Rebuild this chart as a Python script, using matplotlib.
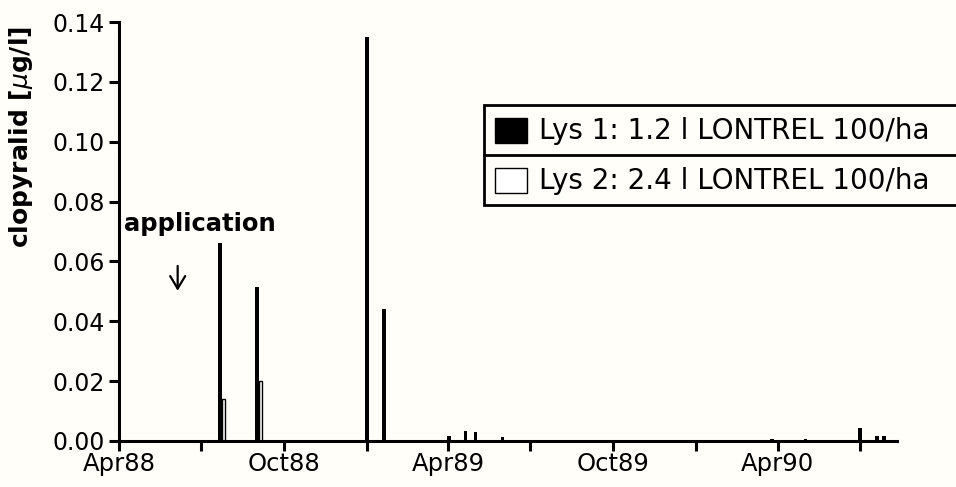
import numpy as np
import matplotlib
matplotlib.use("Agg")
import matplotlib.pyplot as plt
import matplotlib.dates as mdates
from matplotlib.patches import Rectangle
from matplotlib.lines import Line2D

# sampling dates and concentrations
dates = ["1988-07-20", "1988-08-30", "1988-12-30", "1989-01-18", "1989-03-31",
         "1989-04-18", "1989-04-29", "1989-05-29", "1990-03-24", "1990-04-30",
         "1990-06-29", "1990-07-18", "1990-07-26"]
lys1 = [0.066, 0.0515, 0.135, 0.044, 0.0015, 0.0035, 0.003, 0.0012,
        0.0008, 0.0008, 0.0045, 0.0015, 0.0015]
lys2 = [0.014, 0.020, 0, 0, 0, 0, 0, 0, 0, 0, 0, 0, 0]

tick_dates = ["1988-04-01", "1988-07-01", "1988-10-01", "1989-01-01", "1989-04-01",
              "1989-07-01", "1989-10-01", "1990-01-01", "1990-04-01", "1990-07-01"]
tick_labels = ["Apr88", "", "Oct88", "", "Apr89", "", "Oct89", "", "Apr90", ""]

application_date = "1988-06-05"

plt.rcParams['font.family'] = ['DejaVu Sans']
bg = "#fffef8"

fig = plt.figure(figsize=(9.56, 4.87), dpi=100, facecolor=bg)
ax = fig.add_axes([0.1245, 0.0945, 0.8135, 0.8603], facecolor=bg)

x = mdates.datestr2num(dates)
ax.bar(x, lys1, width=4, color="black", align="edge", linewidth=0)
mask = np.array(lys2) > 0
ax.bar(x[mask] + 4, np.array(lys2)[mask], width=4, color="white",
       edgecolor="black", linewidth=1.0, align="edge")

ax.set_xlim(mdates.datestr2num("1988-04-01"), mdates.datestr2num("1990-08-11"))
ax.set_ylim(0, 0.14)
ax.set_yticks(np.arange(0, 0.141, 0.02))
ax.set_yticklabels(["%.2f" % v for v in np.arange(0, 0.141, 0.02)])
ax.set_xticks(mdates.datestr2num(tick_dates))
ax.set_xticklabels(tick_labels)

for s in ["top", "right"]:
    ax.spines[s].set_visible(False)
for s in ["left", "bottom"]:
    ax.spines[s].set_linewidth(2.2)
ax.tick_params(axis="both", width=2.2, length=7)
ax.tick_params(axis="y", labelsize=17, pad=3)
ax.tick_params(axis="x", labelsize=17.5, pad=1)

ax.set_ylabel("clopyralid [$\\mu$g/l]", fontsize=18, fontweight="bold")
ax.yaxis.set_label_coords(-0.108, 0.726)

xa = mdates.datestr2num(application_date)
ax.text(mdates.datestr2num("1988-04-07"), 0.0725, "application", fontsize=17.5,
        fontweight="bold", ha="left", va="center")
ax.annotate("", xy=(xa, 0.0502), xytext=(xa, 0.0585),
            arrowprops=dict(arrowstyle="->,head_length=0.5,head_width=0.3",
                            lw=1.6, color="black", mutation_scale=18,
                            shrinkA=0, shrinkB=0))

# legend box drawn by hand (runs off the right edge)
W, H = 956.0, 487.0
def fr(px, py, w, h):
    return (px / W, 1 - (py + h) / H), w / W, h / H
xy, w, h = fr(484, 105, 500, 100)
fig.patches.append(Rectangle(xy, w, h, transform=fig.transFigure, fill=True,
                             facecolor=bg, edgecolor="black", lw=2.0))
fig.lines.append(Line2D([484 / W, 1], [1 - 155 / H, 1 - 155 / H],
                        transform=fig.transFigure, color="black", lw=2.0))
xy, w, h = fr(495, 118, 32, 25)
fig.patches.append(Rectangle(xy, w, h, transform=fig.transFigure,
                             facecolor="black", edgecolor="black", lw=1))
xy, w, h = fr(495, 168, 32, 25)
fig.patches.append(Rectangle(xy, w, h, transform=fig.transFigure,
                             facecolor="white", edgecolor="black", lw=1))
fig.text(539 / W, 1 - 131 / H, "Lys 1: 1.2 l LONTREL 100/ha", fontsize=20,
         va="center", ha="left")
fig.text(539 / W, 1 - 181 / H, "Lys 2: 2.4 l LONTREL 100/ha", fontsize=20,
         va="center", ha="left")

fig.savefig("out.png", dpi=100, facecolor=bg)
